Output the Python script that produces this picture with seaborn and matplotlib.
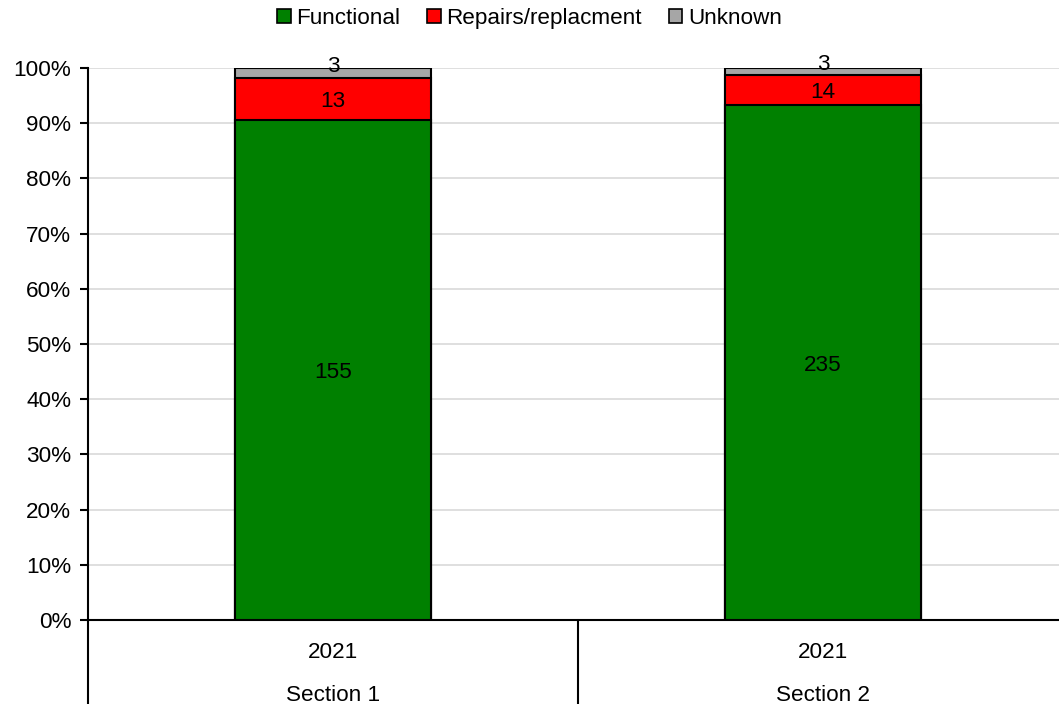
import numpy as np
import pandas as pd
import seaborn as sns
import matplotlib.pyplot as plt
from matplotlib.transforms import blended_transform_factory, offset_copy
from matplotlib.patches import Patch

sections = ["Section 1", "Section 2"]
years = ["2021", "2021"]
functional = [155, 235]
repairs = [13, 14]
unknown = [3, 3]

series = ["Functional", "Repairs/replacment", "Unknown"]
colors = {"Functional": "#008000", "Repairs/replacment": "#ff0000", "Unknown": "#a6a6a6"}

df = pd.DataFrame({"section": sections, "Functional": functional,
                   "Repairs/replacment": repairs, "Unknown": unknown})
totals = df[series].sum(axis=1)
pct = df[series].div(totals, axis=0) * 100
cum = pct.cumsum(axis=1)

sns.set_style("white")
plt.rcParams["font.family"] = ["Liberation Sans", "DejaVu Sans"]
plt.rcParams["text.color"] = "black"
plt.rcParams["xtick.color"] = "black"
plt.rcParams["ytick.color"] = "black"
plt.rcParams["ytick.labelcolor"] = "black"

FS = 16.2

fig = plt.figure(figsize=(10.59, 7.04), dpi=100)
ax = fig.add_axes([88 / 1059, 84 / 704, 980 / 1059, 552 / 704])

# draw from top of stack down so each layer covers the one below
for s in reversed(series):
    plot_df = pd.DataFrame({"section": sections, "top": cum[s]})
    sns.barplot(data=plot_df, x="section", y="top", color=colors[s],
                width=0.4, edgecolor="black", linewidth=1.5, saturation=1,
                ax=ax, zorder=3)

# segment labels (the thin grey one sits a bit higher, like the original)
lift = offset_copy(ax.transData, fig=fig, x=0, y=9, units="dots")
for i in range(len(sections)):
    bottom = 0
    for s in series:
        h = pct.loc[i, s]
        ax.text(i, bottom + h / 2, str(df.loc[i, s]), ha="center", va="center_baseline",
                fontsize=FS, color="black", zorder=5,
                transform=lift if s == "Unknown" else ax.transData)
        bottom += h

ax.set_xlim(-0.5, 1.5)
ax.set_ylim(0, 100)
ax.set_yticks(np.arange(0, 101, 10))
ax.set_yticklabels([f"{v}%" for v in range(0, 101, 10)], fontsize=FS, color="black")
ax.yaxis.grid(True, color="#d9d9d9", linewidth=1.2, zorder=0)
ax.set_axisbelow(True)
ax.tick_params(axis="y", direction="out", length=6, width=1.5, left=True, pad=6,
               colors="black")
ax.set_xticks([])
ax.set_xlabel("")
ax.set_ylabel("")
for sp in ["top", "right"]:
    ax.spines[sp].set_visible(False)
for sp in ["left", "bottom"]:
    ax.spines[sp].set_linewidth(1.5)
    ax.spines[sp].set_color("black")

# multi-level category axis
tr = blended_transform_factory(ax.transData, ax.transAxes)
for x in [-0.5, 0.5]:
    ax.plot([x, x], [0, -0.16], color="black", lw=1.5, transform=tr, clip_on=False)
for i in range(len(sections)):
    ax.text(i, -0.058, years[i], ha="center", va="center", fontsize=FS, transform=tr)
    ax.text(i, -0.136, sections[i], ha="center", va="center", fontsize=FS, transform=tr)

handles = [Patch(facecolor=colors[s], edgecolor="black", linewidth=1.2, label=s) for s in series]
fig.legend(handles=handles, loc="upper center", bbox_to_anchor=(0.5, 1.017), ncol=3,
           frameon=False, fontsize=FS, handlelength=0.6, handleheight=0.6,
           handletextpad=0.25, columnspacing=1.2)

fig.savefig("out.png", dpi=100)
